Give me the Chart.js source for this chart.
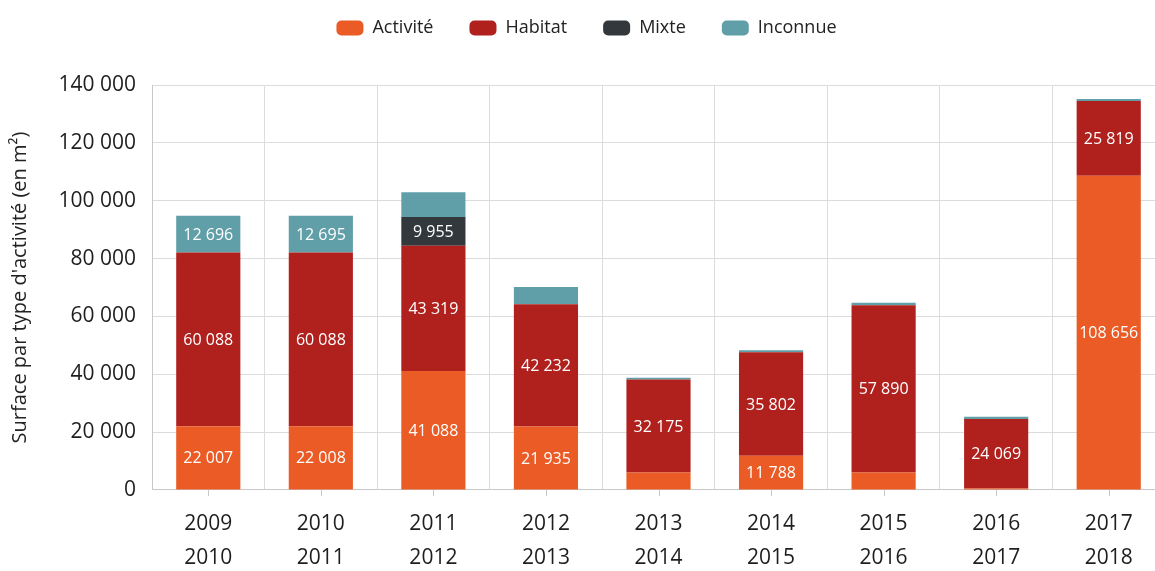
<!DOCTYPE html>
<html>
<head>
<meta charset="utf-8">
<script src="https://cdn.jsdelivr.net/npm/chart.js@4.4.1/dist/chart.umd.min.js"></script>
<style>
  html, body { margin: 0; padding: 0; background: #fff; overflow: hidden; }
  #wrap { width: 1155px; height: 571px; overflow: hidden; position: relative; }
  #box { width: 1165px; height: 571px; position: absolute; left: 0; top: 0; }
</style>
</head>
<body>
<div id="wrap"><div id="box"><canvas id="c"></canvas></div></div>
<script>
const categories = [['2009','2010'],['2010','2011'],['2011','2012'],['2012','2013'],['2013','2014'],['2014','2015'],['2015','2016'],['2016','2017'],['2017','2018']];
const activite = [22007, 22008, 41088, 21935, 6000, 11788, 6000, 500, 108656];
const habitat  = [60088, 60088, 43319, 42232, 32175, 35802, 57890, 24069, 25819];
const mixte    = [0, 0, 9955, 0, 0, 0, 0, 0, 0];
const inconnue = [12696, 12695, 8600, 6000, 600, 700, 800, 700, 700];
const yTicks = [0, 20000, 40000, 60000, 80000, 100000, 120000, 140000];

const FONT = '"Open Sans", sans-serif';
const fmt = v => String(Math.round(v)).replace(/\B(?=(\d{3})+(?!\d))/g, ' ');

const legendFix = {
  id: 'legendFix',
  beforeLayout(chart) {
    const lg = chart.legend;
    if (lg && !lg._patched) {
      const f = lg.fit.bind(lg);
      lg.fit = function () { f(); this.height = 102; };
      lg._patched = true;
    }
  }
};

const segLabels = {
  id: 'segLabels',
  afterDatasetsDraw(chart) {
    const ctx = chart.ctx;
    ctx.save();
    ctx.font = '16px ' + FONT;
    ctx.fillStyle = '#ffffff';
    ctx.textAlign = 'center';
    ctx.textBaseline = 'middle';
    chart.data.datasets.forEach((ds, di) => {
      const meta = chart.getDatasetMeta(di);
      meta.data.forEach((bar, i) => {
        const v = ds.data[i];
        if (v >= 9000) {
          ctx.fillText(fmt(v), bar.x, (bar.y + bar.base) / 2 + 1);
        }
      });
    });
    ctx.restore();
  }
};

const centerTicks = {
  id: 'centerTicks',
  afterDraw(chart) {
    const x = chart.scales.x, ctx = chart.ctx;
    ctx.save();
    ctx.strokeStyle = '#c8c8c8';
    ctx.lineWidth = 1;
    for (let i = 0; i < categories.length; i++) {
      const px = Math.round(x.getPixelForValue(i)) + 0.5;
      ctx.beginPath();
      ctx.moveTo(px, chart.chartArea.bottom);
      ctx.lineTo(px, chart.chartArea.bottom + 6);
      ctx.stroke();
    }
    ctx.restore();
  }
};

const mk = (label, data, color) => ({
  label, data, backgroundColor: color, borderWidth: 0,
  barPercentage: 0.57, categoryPercentage: 1.0
});

new Chart(document.getElementById('c'), {
  type: 'bar',
  data: {
    labels: categories,
    datasets: [
      mk('Activité', activite, '#EA5B25'),
      mk('Habitat', habitat, '#B0211E'),
      mk('Mixte', mixte, '#33383C'),
      mk('Inconnue', inconnue, '#609EA8')
    ]
  },
  options: {
    responsive: true,
    maintainAspectRatio: false,
    animation: false,
    layout: { padding: { top: -17, left: 8, right: 0, bottom: -21 } },
    plugins: {
      legend: {
        position: 'top',
        labels: {
          boxWidth: 27, boxHeight: 15, useBorderRadius: true, borderRadius: 5,
          padding: 36, color: '#222', font: { family: FONT, size: 18 }
        }
      },
      tooltip: { enabled: false }
    },
    scales: {
      x: {
        stacked: true,
        grid: { color: '#dcdcdc', drawTicks: false, offset: true },
        border: { color: '#c8c8c8' },
        ticks: { color: '#1e1e1e', padding: 17, font: { family: FONT, size: 21, lineHeight: 1.62 }, maxRotation: 0 }
      },
      y: {
        stacked: true,
        min: 0, max: 140000,
        afterBuildTicks: s => { s.ticks = yTicks.map(v => ({ value: v })); },
        afterFit: s => { s.width = 144; },
        grid: { color: '#dcdcdc', drawTicks: false },
        border: { color: '#c8c8c8' },
        ticks: { color: '#1e1e1e', padding: 16, font: { family: FONT, size: 21 }, callback: v => fmt(v) },
        title: { display: true, text: "Surface par type d'activité (en m²)", color: '#222', font: { family: FONT, size: 20 }, padding: { top: 0, bottom: 0 } }
      }
    }
  },
  plugins: [legendFix, segLabels, centerTicks]
});
</script>
</body>
</html>
